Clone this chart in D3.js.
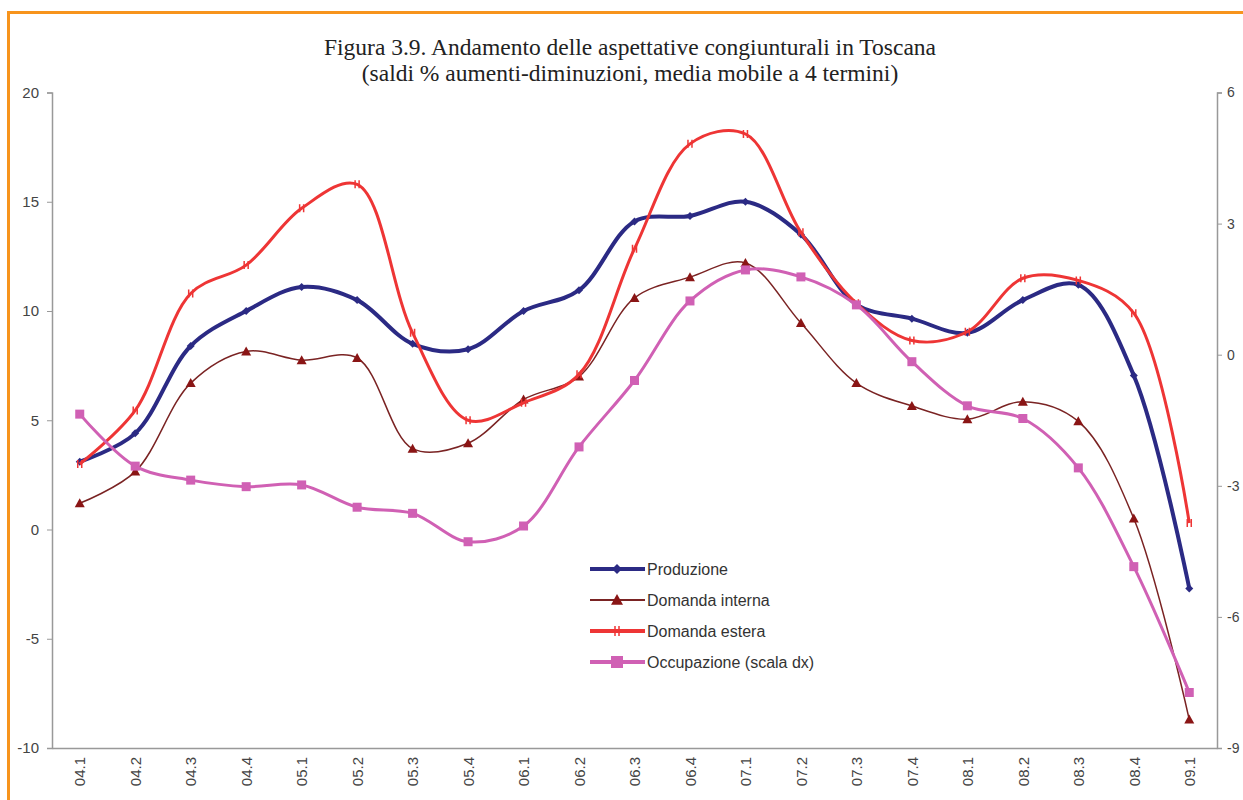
<!DOCTYPE html>
<html><head><meta charset="utf-8">
<script src="https://cdn.jsdelivr.net/npm/d3@7"></script>
<style>
html,body{margin:0;padding:0;background:#fff;overflow:hidden;}
svg{display:block;}
</style></head>
<body>
<svg id="chart" width="1243" height="800"></svg>
<script>
const categories = ["04.1","04.2","04.3","04.4","05.1","05.2","05.3","05.4","06.1","06.2","06.3","06.4","07.1","07.2","07.3","07.4","08.1","08.2","08.3","08.4","09.1"];
const produzione = [3.1,4.4,8.4,10.0,11.1,10.5,8.5,8.25,10.0,10.95,14.1,14.35,15.0,13.5,10.3,9.65,9.0,10.5,11.2,7.05,-2.7];
const domandaInterna = [1.2,2.65,6.7,8.15,7.75,7.85,3.7,3.95,5.95,7.0,10.6,11.55,12.2,9.45,6.7,5.65,5.05,5.85,4.95,0.5,-8.7];
const domandaEstera = [3.0,5.45,10.8,12.1,14.7,15.8,9.0,5.0,5.8,7.1,12.85,17.65,18.1,13.6,10.35,8.65,9.05,11.5,11.4,9.9,0.3];
const occupazione = [-1.36,-2.55,-2.87,-3.02,-2.98,-3.49,-3.63,-4.28,-3.92,-2.11,-0.59,1.23,1.94,1.78,1.14,-0.16,-1.17,-1.46,-2.59,-4.85,-7.73];
const leftTicks = [20,15,10,5,0,-5,-10];
const rightTicks = [6,3,0,-3,-6,-9];
const seriesNames = ["Produzione","Domanda interna","Domanda estera","Occupazione (scala dx)"];
const titleLines = ["Figura 3.9. Andamento delle aspettative congiunturali in Toscana","(saldi % aumenti-diminuzioni, media mobile a 4 termini)"];

const svg = d3.select("#chart");
const L = 52, R = 1217, T = 92.5, B = 748;
const font = "'Liberation Sans Narrow','Arial Narrow','Liberation Sans',Arial,sans-serif";

// orange frame
svg.append("rect").attr("x",8.5).attr("y",12.5).attr("width",1300).attr("height",900)
  .attr("fill","#fff").attr("stroke","#f7941d").attr("stroke-width",3);

const x = d3.scalePoint().domain(categories).range([L,R]).padding(0.5);
const yL = d3.scaleLinear().domain([-10,20]).range([B,T]);
const yR = d3.scaleLinear().domain([-9,6]).range([B,T]);

// title
const tt = svg.append("text").attr("text-anchor","middle")
  .attr("font-family","'Liberation Serif','Times New Roman',serif").attr("font-size",23.5).attr("fill","#222");
titleLines.forEach((t,i)=>tt.append("tspan").attr("x",630).attr("y",55+i*26).text(t));

// axes
const fmt = d => String(d);
const axL = svg.append("g").attr("transform",`translate(${L},0)`)
  .call(d3.axisLeft(yL).tickValues(leftTicks).tickSize(5).tickPadding(8).tickFormat(fmt));
const axR = svg.append("g").attr("transform",`translate(${R},0)`)
  .call(d3.axisRight(yR).tickValues(rightTicks).tickSize(5).tickPadding(5).tickFormat(fmt));
const axB = svg.append("g").attr("transform",`translate(0,${B})`)
  .call(d3.axisBottom(x).tickSize(0).tickPadding(0));
[axL,axR,axB].forEach(a=>{
  a.select(".domain").attr("stroke","#999").attr("stroke-width",1.5);
  a.selectAll(".tick line").attr("stroke","#999");
  a.selectAll(".tick text").attr("font-family",font).attr("font-size",15).attr("fill","#444");
});
axR.selectAll(".tick text").attr("font-size",14);
axB.selectAll(".tick text").attr("transform","rotate(-90)").attr("text-anchor","end")
  .attr("x",-9).attr("y",0).attr("dy","0.35em");

function drawSeries(vals, yScale, color, width, marker){
  const pts = vals.map((v,i)=>[x(categories[i]), yScale(v)]);
  svg.append("path").attr("d", d3.line().curve(d3.curveCatmullRom.alpha(0.5))(pts))
    .attr("fill","none").attr("stroke",color).attr("stroke-width",width);
  const g = svg.append("g");
  pts.forEach(p=>marker(g,p[0],p[1]));
}
const diamond = (c,s)=> (g,px,py)=> g.append("path").attr("d",`M${px},${py-s}L${px+s},${py}L${px},${py+s}L${px-s},${py}Z`).attr("fill",c);
const tri = (c,s)=> (g,px,py)=> g.append("path").attr("d",`M${px},${py-s}L${px+s},${py+s*0.8}L${px-s},${py+s*0.8}Z`).attr("fill",c);
const plus = (c,s)=> (g,px,py)=> { g.append("path").attr("d",`M${px-2},${py-s}V${py+s}M${px+2},${py-s}V${py+s}`).attr("stroke",c).attr("stroke-width",1.5); };
const square = (c,s)=> (g,px,py)=> g.append("rect").attr("x",px-s).attr("y",py-s).attr("width",2*s).attr("height",2*s).attr("fill",c);

const colors = ["#2b2a84","#7a2323","#ee3535","#d060b4"];
const widths = [4,1.5,3,3];
const markers = [diamond("#2b2a84",4), tri("#8a1515",5), plus("#ee3535",4), square("#d060b4",4.5)];

drawSeries(produzione, yL, colors[0], widths[0], markers[0]);
drawSeries(domandaInterna, yL, colors[1], widths[1], markers[1]);
drawSeries(domandaEstera, yL, colors[2], widths[2], markers[2]);
drawSeries(occupazione, yR, colors[3], widths[3], markers[3]);

// legend
const legendMarkers = [diamond("#2b2a84",5), tri("#8a1515",6), plus("#ee3535",5), square("#d060b4",6)];
seriesNames.forEach((n,i)=>{
  const ly = 569 + i*31;
  svg.append("line").attr("x1",590).attr("x2",645).attr("y1",ly).attr("y2",ly)
    .attr("stroke",colors[i]).attr("stroke-width",i===1?2:4);
  legendMarkers[i](svg,617,ly);
  svg.append("text").attr("x",647).attr("y",ly).attr("dy","0.35em")
    .attr("font-family",font).attr("font-size",16).attr("fill","#333").text(n);
});
</script>
</body></html>
